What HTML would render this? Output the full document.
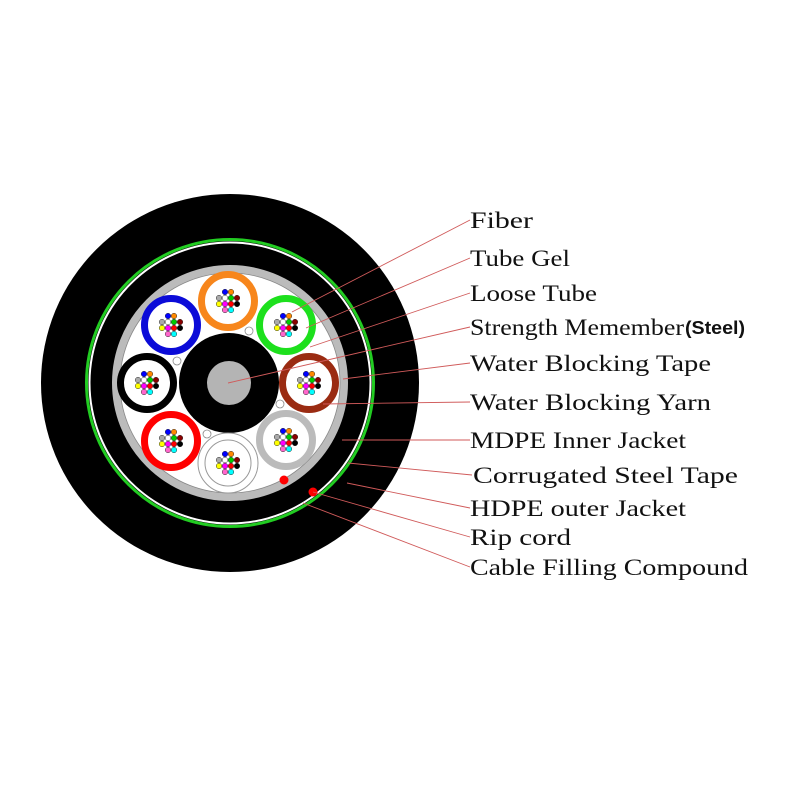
<!DOCTYPE html>
<html><head><meta charset="utf-8"><style>
html,body{margin:0;padding:0;background:#fff;width:800px;height:800px;overflow:hidden}
svg{display:block}
.l{font-family:"Liberation Serif",serif;font-size:23px;fill:#111}
</style></head><body>
<svg width="800" height="800" viewBox="0 0 800 800" xmlns="http://www.w3.org/2000/svg">
<defs>
<g id="fc" stroke="#333" stroke-width="0.5">
<circle cx="-3" cy="-9" r="2.8" fill="#00f"/><circle cx="3" cy="-9" r="2.8" fill="#f80"/>
<circle cx="-9" cy="-3" r="2.8" fill="#aaa"/><circle cx="-3" cy="-3" r="2.8" fill="#fff"/><circle cx="3" cy="-3" r="2.8" fill="#0c0"/><circle cx="9" cy="-3" r="2.8" fill="#800"/>
<circle cx="-9" cy="3" r="2.8" fill="#ff0"/><circle cx="-3" cy="3" r="2.8" fill="#f0f"/><circle cx="3" cy="3" r="2.8" fill="#f00"/><circle cx="9" cy="3" r="2.8" fill="#000"/>
<circle cx="-3" cy="9" r="2.8" fill="#f6c"/><circle cx="3" cy="9" r="2.8" fill="#0ff"/>
</g>
</defs>
<circle cx="230" cy="383" r="189" fill="#000"/>
<circle cx="230" cy="383" r="143.5" fill="none" stroke="#2c2" stroke-width="3"/>
<circle cx="230" cy="383" r="140.5" fill="none" stroke="#fff" stroke-width="2"/>
<circle cx="230" cy="383" r="114" fill="#fff" stroke="#bbb" stroke-width="8"/>
<circle cx="230" cy="383" r="110" fill="none" stroke="#888" stroke-width="0.8"/>
<circle cx="229" cy="383" r="50" fill="#000"/>
<circle cx="229" cy="383" r="22" fill="#b4b4b4"/>
<g fill="#fff" stroke="#888" stroke-width="0.8">
<circle cx="249" cy="331" r="4"/><circle cx="177" cy="361" r="4"/><circle cx="280" cy="404" r="4"/><circle cx="207" cy="434" r="4"/>
</g>
<g fill="#fff" stroke-width="7">
<circle cx="228" cy="301" r="26.5" stroke="#f7861c"/>
<circle cx="286" cy="325" r="26.5" stroke="#1de01d"/>
<circle cx="309" cy="383" r="26.5" stroke="#9a2b12"/>
<circle cx="286" cy="440" r="26.5" stroke="#bbb"/>
<circle cx="171" cy="441" r="26.5" stroke="#f00"/>
<circle cx="147" cy="383" r="26.5" stroke="#000"/>
<circle cx="171" cy="325" r="26.5" stroke="#0b0bd8"/>
</g>
<circle cx="228" cy="463" r="30" fill="#fff" stroke="#999" stroke-width="1"/>
<circle cx="228" cy="463" r="23" fill="#fff" stroke="#999" stroke-width="1"/>
<use href="#fc" x="228" y="301"/><use href="#fc" x="286" y="325"/><use href="#fc" x="309" y="383"/>
<use href="#fc" x="286" y="440"/><use href="#fc" x="228" y="463"/><use href="#fc" x="171" y="441"/>
<use href="#fc" x="147" y="383"/><use href="#fc" x="171" y="325"/>
<circle cx="284" cy="480" r="4.5" fill="#f00"/>
<circle cx="313" cy="492" r="4.5" fill="#f00"/>
<g stroke="#d05a5a" stroke-width="0.9" fill="none">
<line x1="470" y1="220" x2="292" y2="312"/>
<line x1="470" y1="258" x2="306" y2="328"/>
<line x1="470" y1="293" x2="310" y2="347"/>
<line x1="470" y1="327" x2="228" y2="383"/>
<line x1="470" y1="363" x2="343" y2="379"/>
<line x1="470" y1="402" x2="323" y2="404"/>
<line x1="470" y1="440" x2="342" y2="440"/>
<line x1="472" y1="475" x2="348" y2="463"/>
<line x1="470" y1="508" x2="347" y2="483"/>
<line x1="470" y1="537" x2="313" y2="492"/>
<line x1="470" y1="567" x2="303" y2="503"/>
</g>
<text class="l" x="470" y="228" textLength="63" lengthAdjust="spacingAndGlyphs">Fiber</text>
<text class="l" x="470" y="266" textLength="100" lengthAdjust="spacingAndGlyphs">Tube Gel</text>
<text class="l" x="470" y="301" textLength="127" lengthAdjust="spacingAndGlyphs">Loose Tube</text>
<text class="l" x="470" y="335" textLength="214" lengthAdjust="spacingAndGlyphs">Strength Memember</text>
<text x="685" y="334" style="font-family:'Liberation Sans',sans-serif;font-size:18px;font-weight:bold" fill="#111" textLength="60" lengthAdjust="spacingAndGlyphs">(Steel)</text>
<text class="l" x="470" y="371" textLength="241" lengthAdjust="spacingAndGlyphs">Water Blocking Tape</text>
<text class="l" x="470" y="410" textLength="241" lengthAdjust="spacingAndGlyphs">Water Blocking Yarn</text>
<text class="l" x="470" y="448" textLength="216" lengthAdjust="spacingAndGlyphs">MDPE Inner Jacket</text>
<text class="l" x="473" y="483" textLength="265" lengthAdjust="spacingAndGlyphs">Corrugated Steel Tape</text>
<text class="l" x="470" y="516" textLength="216" lengthAdjust="spacingAndGlyphs">HDPE outer Jacket</text>
<text class="l" x="470" y="545" textLength="101" lengthAdjust="spacingAndGlyphs">Rip cord</text>
<text class="l" x="470" y="575" textLength="278" lengthAdjust="spacingAndGlyphs">Cable Filling Compound</text>
</svg>
</body></html>
